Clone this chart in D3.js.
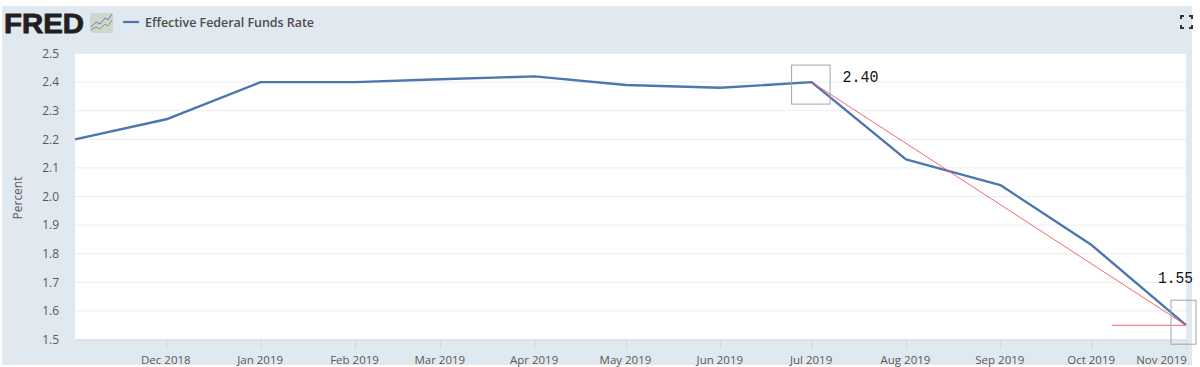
<!DOCTYPE html>
<html><head><meta charset="utf-8">
<script src="https://cdnjs.cloudflare.com/ajax/libs/d3/7.8.5/d3.min.js"></script>
<style>html,body{margin:0;padding:0;background:#fff}svg{display:block}</style>
</head><body><svg id="c" width="1200" height="367"></svg>
<script>
const months = ["2018-11-01","2018-12-01","2019-01-01","2019-02-01","2019-03-01","2019-04-01","2019-05-01","2019-06-01","2019-07-01","2019-08-01","2019-09-01","2019-10-01","2019-11-01"];
const rates = [2.20,2.27,2.40,2.40,2.41,2.42,2.39,2.38,2.40,2.13,2.04,1.83,1.55];
const yTicks = [1.5,1.6,1.7,1.8,1.9,2.0,2.1,2.2,2.3,2.4,2.5];
const seriesName = "Effective Federal Funds Rate";
const yTitle = "Percent";
const callouts = [{month:"2019-07-01",value:2.40,label:"2.40"},{month:"2019-11-01",value:1.55,label:"1.55"}];

const parse = d3.utcParse("%Y-%m-%d");
const svg = d3.select("#c");
const font = "'Open Sans','Noto Sans',sans-serif";
const L=75,R=1186,T=53.5,B=339.5;
const x = d3.scaleUtc().domain([parse(months[0]),parse(months[12])]).range([L,R]);
const y = d3.scaleLinear().domain([1.5,2.5]).range([B,T]);

svg.append("rect").attr("x",2).attr("y",6).attr("width",1190).attr("height",359).attr("fill","#e1e9f0");
svg.append("rect").attr("x",L).attr("y",T).attr("width",R-L).attr("height",B-T).attr("fill","#fff");

// gridlines and y axis
svg.append("g").selectAll("line").data(yTicks.slice(1)).join("line")
  .attr("x1",L).attr("x2",R).attr("y1",d=>y(d)).attr("y2",d=>y(d))
  .attr("stroke","#e9edf2").attr("stroke-width",1);
const yAxis = svg.append("g").attr("transform",`translate(${L},0)`)
  .call(d3.axisLeft(y).tickValues(yTicks).tickFormat(d3.format(".1f")).tickSize(0).tickPadding(16));
yAxis.select(".domain").remove();
yAxis.selectAll("text").attr("font-family",font).attr("font-size",12).attr("fill","#595959");

// x axis
const xAxis = svg.append("g").attr("transform",`translate(0,${B})`)
  .call(d3.axisBottom(x).tickValues(months.slice(1).map(parse)).tickFormat(d3.utcFormat("%b %Y")).tickSizeInner(10).tickSizeOuter(0).tickPadding(6));
xAxis.select(".domain").attr("stroke","#ccd6eb");
xAxis.selectAll("line").attr("stroke","#ccd6eb");
xAxis.selectAll("text").attr("font-family",font).attr("font-size",11.5).attr("fill","#595959").attr("dx",-1);
xAxis.selectAll(".tick").filter((d,i)=>i===11).select("text").attr("dx",-25);

svg.append("text").attr("transform","translate(22,198) rotate(-90)").attr("text-anchor","middle")
  .attr("font-family",font).attr("font-size",12).attr("fill","#595959").text(yTitle);

// series
const line = d3.line().x((d,i)=>x(parse(months[i]))).y(d=>y(d));
svg.append("path").datum(rates).attr("d",line).attr("fill","none").attr("stroke","#4c76ae").attr("stroke-width",2.4).attr("stroke-linejoin","round");

// annotations
const p0 = [x(parse(callouts[0].month)),y(callouts[0].value)];
const p1 = [x(parse(callouts[1].month)),y(callouts[1].value)];
svg.append("line").attr("x1",p0[0]).attr("y1",p0[1]).attr("x2",p1[0]).attr("y2",p1[1]).attr("stroke","#f8525a").attr("stroke-width",0.9);
svg.append("line").attr("x1",p1[0]-74).attr("x2",p1[0]).attr("y1",p1[1]).attr("y2",p1[1]).attr("stroke","#f8606a").attr("stroke-width",1.1);
svg.append("rect").attr("x",p0[0]-20).attr("y",p0[1]-17).attr("width",38.5).attr("height",39).attr("fill","none").attr("stroke","#a3a3a3").attr("stroke-width",1);
svg.append("rect").attr("x",p1[0]-15).attr("y",p1[1]-25).attr("width",25).attr("height",44).attr("fill","none").attr("stroke","#a3a3a3").attr("stroke-width",1);
const mono = "'Liberation Mono','DejaVu Sans Mono',monospace";
svg.append("text").attr("x",p0[0]+31).attr("y",p0[1]-0.5).attr("font-family",mono).attr("font-size",16).attr("fill","#111").attr("textLength",36).attr("lengthAdjust","spacingAndGlyphs").text(callouts[0].label);
svg.append("text").attr("x",p1[0]-28).attr("y",p1[1]-42).attr("font-family",mono).attr("font-size",16).attr("fill","#111").attr("textLength",35).attr("lengthAdjust","spacingAndGlyphs").text(callouts[1].label);

// header
svg.append("text").attr("x",4).attr("y",33).attr("font-family","'Liberation Sans',sans-serif").attr("font-weight",700)
  .attr("font-size",28.5).attr("fill","#231f20").attr("stroke","#231f20").attr("stroke-width",0.9).attr("textLength",80).attr("lengthAdjust","spacingAndGlyphs").text("FRED");
const ic = svg.append("g").attr("transform","translate(90,13)");
ic.append("rect").attr("width",23).attr("height",20).attr("rx",2).attr("fill","#d2d5cf");
ic.append("path").attr("d","M1 14L6 9L10 11L15 5L18 7L22 1").attr("fill","none").attr("stroke","#5b84b1").attr("stroke-width",1);
ic.append("path").attr("d","M1 17L6 14L10 16L15 11L18 13L22 7").attr("fill","none").attr("stroke","#7fa650").attr("stroke-width",1);
svg.append("line").attr("x1",123).attr("x2",139).attr("y1",22).attr("y2",22).attr("stroke","#4c76ae").attr("stroke-width",2.2);
svg.append("text").attr("x",145).attr("y",27).attr("font-family",font).attr("font-size",12.5).attr("font-weight",600).attr("fill","#4d4d4d").attr("textLength",169).text(seriesName);
// fullscreen glyph
svg.append("path").attr("d","M1181 19v-3h3M1189 16h3v3M1192 25v3h-3M1184 28h-3v-3").attr("fill","none").attr("stroke","#333").attr("stroke-width",2);
</script></body></html>
